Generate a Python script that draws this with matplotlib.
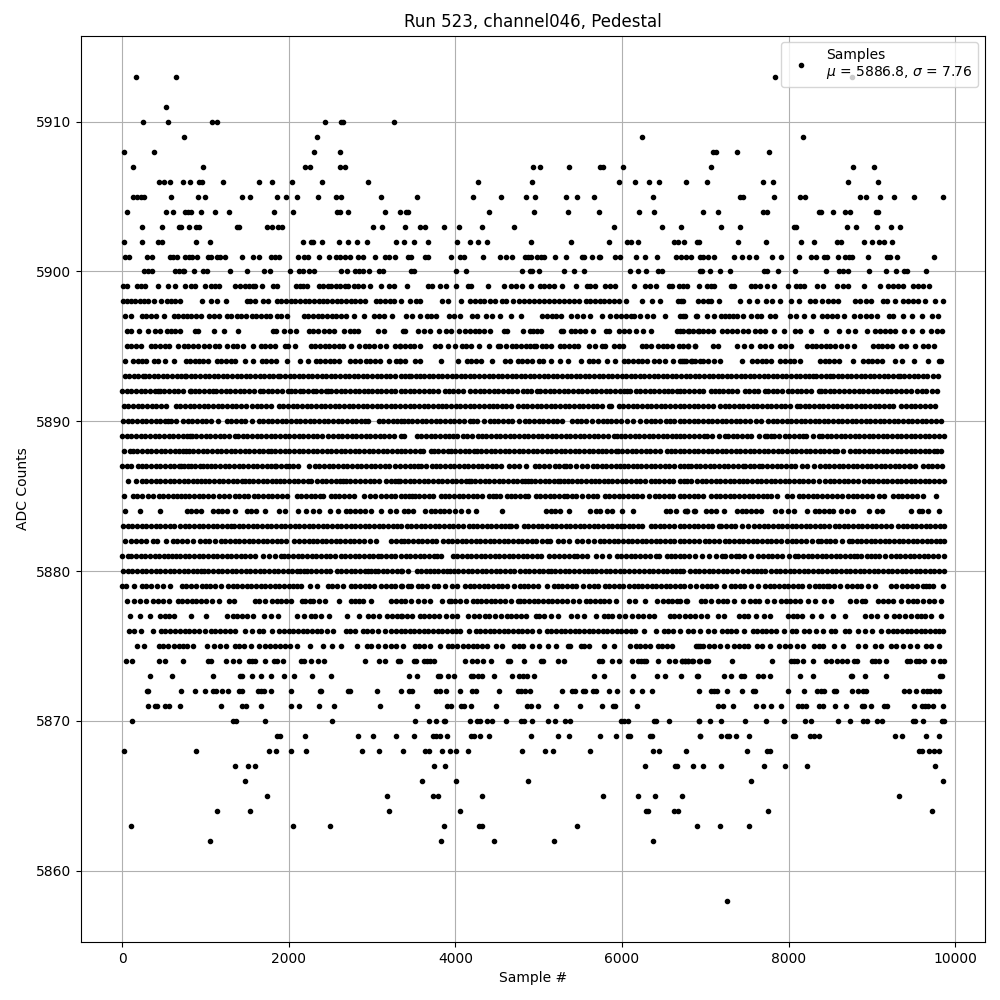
import matplotlib
matplotlib.use("Agg")
import matplotlib.pyplot as plt

## sample numbers, one list per ADC level
s5913 = [162, 642, 7839, 8763]
s5911 = [522]
s5910 = [246, 546, 1074, 1134, 2430, 2630, 2655, 3258]
s5909 = [738, 2334, 6236, 8175]
s5908 = [18, 378, 2298, 2610, 7095, 7131, 7383, 7767]
s5907 = [126, 966, 2190, 2250, 2610, 2670, 4928, 5012, 5360, 5732, 5768, 6008, 7071, 8775, 9027]
s5906 = [438, 498, 570, 726, 810, 918, 958, 1206, 1638, 1794, 2034, 2394, 2946, 4268, 4916, 5960, 6152, 6320, 6440, 6764,
         7023, 7695, 7815, 8715, 9075]
s5905 = [126, 174, 222, 258, 582, 906, 990, 1434, 1530, 1854, 1962, 2094, 2346, 2562, 2622, 3102, 3536, 4208, 4544, 4844,
         4952, 5324, 5456, 5660, 6368, 7419, 7455, 7827, 8139, 8199, 8859, 8931, 9099, 9267, 9507, 9855]
s5904 = [54, 522, 606, 750, 786, 822, 942, 1110, 1278, 1818, 2046, 2574, 2610, 2706, 3150, 3330, 3404, 3428, 4400, 4940,
         5348, 5720, 6200, 6380, 6975, 7155, 7695, 7743, 8367, 8391, 8535, 8679, 8739, 9051, 9075]
s5903 = [234, 474, 678, 702, 798, 882, 918, 1374, 1398, 1734, 1794, 1866, 1914, 3006, 3114, 3392, 3572, 3632, 3860, 4040,
         4316, 4700, 5900, 6476, 6704, 7191, 7419, 8067, 8091, 8703, 8811, 9063, 9231, 9339]
s5902 = [18, 234, 426, 474, 882, 1050, 2166, 2262, 2286, 2394, 2598, 2706, 2814, 2934, 3282, 3380, 3500, 3668, 4016, 4172,
         4268, 4376, 4904, 5384, 5840, 6056, 6104, 6188, 6620, 6668, 6740, 6896, 6920, 7395, 7731, 8151, 8307, 8583, 8631,
         8907, 9003, 9087, 9147, 9243]
s5901 = [30, 78, 294, 354, 570, 606, 654, 750, 798, 834, 898, 1026, 1062, 1134, 1170, 1230, 1434, 1570, 1638, 1782, 1830,
         1878, 2106, 2178, 2226, 2358, 2478, 2562, 2610, 2670, 2730, 2826, 2886, 3030, 3150, 3198, 3270, 3428, 3464, 3632,
         3668, 3944, 4052, 4100, 4328, 4532, 4604, 4676, 4832, 4868, 4904, 4976, 5024, 5060, 5192, 5332, 5516, 5540, 5636,
         5720, 5732, 5912, 5972, 6164, 6272, 6416, 6644, 6704, 6764, 6824, 6939, 6975, 7035, 7107, 7347, 7443, 7527, 7611,
         7803, 7911, 8127, 8271, 8331, 8427, 8463, 8595, 8679, 8727, 8763, 8955, 9183, 9219, 9303, 9747]
s5900 = [258, 306, 354, 630, 678, 726, 738, 858, 966, 1014, 1290, 1494, 1698, 1770, 2010, 2118, 2166, 2238, 2298, 2622,
         2694, 2790, 2838, 2886, 2958, 3078, 3126, 3464, 3500, 4004, 4124, 4796, 4892, 4916, 5000, 5300, 5420, 5540, 6092,
         6188, 6284, 6428, 6476, 6932, 6959, 7059, 7179, 7299, 7707, 7743, 7875, 8079, 8451, 8607, 8655, 8715, 8967, 9171,
         9291, 9387, 9423, 9651]
s5899 = [10, 58, 174, 222, 270, 426, 546, 630, 750, 822, 870, 990, 1062, 1110, 1158, 1350, 1410, 1470, 1518, 1566, 1590,
         1674, 1806, 1854, 2082, 2130, 2166, 2214, 2358, 2414, 2470, 2502, 2562, 2618, 2674, 2706, 2778, 2834, 2890, 2970,
         3102, 3198, 3258, 3416, 3668, 3716, 3812, 3884, 4004, 4148, 4184, 4388, 4580, 4664, 4724, 4796, 4904, 5012, 5060,
         5120, 5180, 5276, 5444, 5576, 5612, 5672, 5792, 5852, 5912, 6140, 6272, 6332, 6404, 6560, 6596, 6680, 6735, 6783,
         6927, 7023, 7071, 7107, 7311, 7347, 7551, 7599, 7659, 7743, 7827, 7995, 8091, 8139, 8187, 8343, 8415, 8583, 8655,
         8715, 8907, 9095, 9195, 9255, 9315, 9375, 9495, 9555, 9615, 9687]
s5898 = [10, 60, 110, 160, 210, 260, 310, 378, 462, 534, 590, 640, 698, 954, 1062, 1134, 1242, 1494, 1530, 1590, 1686, 1746,
         1854, 1910, 1966, 2022, 2078, 2134, 2190, 2246, 2302, 2358, 2406, 2462, 2518, 2574, 2630, 2686, 2742, 2798, 2854,
         2910, 3042, 3098, 3154, 3210, 3266, 3342, 3452, 3524, 3572, 3836, 3908, 4064, 4172, 4232, 4292, 4340, 4412, 4472,
         4556, 4604, 4688, 4760, 4820, 4880, 4940, 5000, 5060, 5120, 5180, 5240, 5300, 5360, 5420, 5480, 5564, 5620, 5676,
         5732, 5788, 5840, 5900, 5960, 6044, 6236, 6356, 6452, 6668, 6707, 6728, 6915, 6975, 7035, 7071, 7167, 7419, 7527,
         7623, 7731, 7803, 7899, 8031, 8127, 8259, 8319, 8403, 8475, 8535, 8595, 8799, 8859, 8931, 8991, 9135, 9183, 9279,
         9375, 9435, 9495, 9555, 9639, 9759, 9855]
s5897 = [30, 102, 234, 290, 346, 402, 498, 618, 672, 726, 774, 830, 882, 942, 1038, 1100, 1158, 1254, 1310, 1374, 1422,
         1482, 1554, 1610, 1666, 1722, 1778, 1854, 1902, 1974, 2178, 2234, 2290, 2346, 2402, 2458, 2514, 2570, 2626, 2682,
         2778, 2898, 3018, 3078, 3138, 3234, 3404, 3476, 3572, 3656, 3710, 3764, 3920, 3980, 4052, 4196, 4256, 4364, 4436,
         4532, 4664, 4784, 5036, 5096, 5156, 5210, 5264, 5384, 5456, 5528, 5620, 5756, 5852, 5924, 5984, 6044, 6104, 6140,
         6212, 6296, 6368, 6512, 6692, 6752, 6896, 6735, 6891, 7023, 7107, 7191, 7239, 7287, 7335, 7383, 7455, 7551, 7623,
         7671, 7779, 7839, 8019, 8091, 8187, 8295, 8403, 8463, 8523, 8583, 8667, 8787, 8859, 8931, 8991, 9063, 9207, 9255,
         9375, 9483, 9603, 9723, 9795]
s5896 = [54, 102, 198, 306, 390, 450, 534, 590, 640, 690, 870, 906, 1098, 1218, 1386, 1806, 1842, 1938, 2010, 2082, 2238,
         2292, 2346, 2418, 2480, 2538, 2658, 2730, 2780, 2826, 3066, 3138, 3368, 3392, 3548, 3620, 3692, 3800, 3884, 3944,
         4040, 4112, 4172, 4232, 4286, 4340, 4412, 4580, 4616, 4808, 4892, 4928, 4976, 5024, 5264, 5288, 5384, 5440, 5500,
         5560, 5648, 5804, 5840, 5960, 6020, 6080, 6164, 6248, 6344, 6656, 6728, 6800, 6920, 6695, 6795, 6855, 6915, 6975,
         7035, 7095, 7203, 7263, 7323, 7383, 7455, 7515, 7599, 7659, 7719, 7827, 7947, 8079, 8139, 8271, 8451, 8607, 8715,
         8799, 8943, 9039, 9099, 9159, 9219, 9279, 9387, 9483, 9603, 9711, 9783, 9843]
s5895 = [54, 110, 162, 222, 342, 398, 454, 510, 566, 666, 738, 794, 850, 906, 978, 1038, 1110, 1158, 1254, 1326, 1382, 1446,
         1566, 1662, 1718, 1774, 1830, 1950, 1986, 2070, 2262, 2318, 2374, 2430, 2486, 2542, 2598, 2654, 2742, 2838, 2910,
         2966, 3022, 3090, 3162, 3270, 3330, 3340, 3396, 3452, 3508, 3580, 3752, 3812, 3908, 3992, 4076, 4132, 4188, 4280,
         4400, 4508, 4532, 4604, 4676, 4732, 4788, 4844, 4900, 4940, 4964, 5036, 5090, 5144, 5252, 5308, 5364, 5420, 5476,
         5600, 5672, 5756, 5792, 5900, 5960, 6008, 6236, 6292, 6348, 6428, 6488, 6544, 6600, 6680, 6788, 6872, 6735, 6795,
         6879, 7095, 7155, 7383, 7467, 7551, 7659, 7715, 7791, 7899, 7959, 8031, 8223, 8279, 8335, 8391, 8447, 8503, 8559,
         8631, 8703, 8787, 9015, 9071, 9127, 9183, 9239, 9351, 9411, 9519, 9615, 9671, 9747]
s5894 = [30, 126, 186, 242, 282, 378, 434, 510, 618, 762, 818, 874, 918, 966, 1026, 1134, 1190, 1246, 1302, 1358, 1470, 1566,
         1674, 1730, 1786, 1842, 1974, 2130, 2226, 2322, 2378, 2434, 2490, 2546, 2602, 2730, 2790, 2850, 2922, 2978, 3034,
         3090, 3198, 3282, 3330, 3340, 3392, 3512, 3572, 3824, 4028, 4136, 4192, 4248, 4304, 4436, 4592, 4652, 4748, 4804,
         4860, 4916, 5000, 5048, 5144, 5252, 5348, 5504, 5600, 5656, 5712, 5816, 5912, 6020, 6076, 6132, 6188, 6244, 6300,
         6380, 6440, 6512, 6608, 6716, 6772, 6828, 6932, 6695, 6751, 6839, 6879, 6975, 7035, 7107, 7179, 7443, 7563, 7623,
         7679, 7735, 7791, 7899, 7959, 8015, 8071, 8139, 8379, 8435, 8491, 8547, 8603, 8775, 8895, 8951, 9007, 9063, 9119,
         9279, 9363, 9507, 9675, 9807, 9831]
s5893 = [30, 85, 140, 195, 250, 270, 325, 380, 435, 490, 545, 600, 655, 710, 750, 770, 825, 880, 935, 990, 1045, 1100, 1155,
         1210, 1265, 1320, 1375, 1430, 1485, 1540, 1595, 1650, 1705, 1760, 1815, 1870, 1890, 1950, 2010, 2065, 2120, 2175,
         2230, 2285, 2340, 2395, 2450, 2505, 2560, 2615, 2670, 2725, 2780, 2835, 2890, 2945, 3000, 3055, 3110, 3165, 3220,
         3275, 3350, 3400, 3440, 3468, 3525, 3580, 3620, 3680, 3735, 3790, 3845, 3900, 3955, 4010, 4065, 4120, 4175, 4230,
         4285, 4340, 4400, 4455, 4510, 4565, 4620, 4675, 4730, 4785, 4840, 4895, 4950, 5005, 5060, 5115, 5170, 5225, 5280,
         5335, 5390, 5445, 5500, 5555, 5610, 5665, 5720, 5775, 5830, 5885, 5940, 5995, 6050, 6105, 6160, 6215, 6270, 6325,
         6380, 6435, 6490, 6545, 6600, 6655, 6710, 6765, 6820, 6875, 6930, 6985, 7040, 7095, 7150, 7205, 7260, 7315, 7370,
         7425, 7480, 7535, 7590, 7645, 7700, 7755, 7810, 7865, 7920, 7975, 8030, 8085, 8140, 8195, 8250, 8295, 8335, 8390,
         8445, 8495, 8535, 8590, 8645, 8700, 8755, 8810, 8865, 8920, 8975, 9030, 9085, 9140, 9195, 9250, 9315, 9335, 9390,
         9445, 9500, 9555, 9610, 9665, 9735, 9795]
s5892 = [0, 56, 112, 168, 224, 280, 336, 392, 430, 450, 506, 562, 618, 674, 730, 810, 830, 870, 926, 982, 1038, 1090, 1130,
         1186, 1242, 1298, 1354, 1410, 1466, 1522, 1578, 1650, 1690, 1746, 1802, 1858, 1914, 1990, 2030, 2080, 2130, 2170,
         2230, 2290, 2330, 2386, 2442, 2470, 2510, 2566, 2622, 2678, 2734, 2790, 2846, 2902, 2950, 2998, 3054, 3110, 3166,
         3222, 3278, 3350, 3396, 3452, 3508, 3564, 3628, 3680, 3736, 3792, 3872, 3920, 3976, 4032, 4088, 4172, 4236, 4292,
         4348, 4404, 4460, 4516, 4572, 4628, 4684, 4740, 4808, 4856, 4912, 4980, 5020, 5076, 5132, 5188, 5244, 5300, 5356,
         5412, 5468, 5524, 5580, 5636, 5692, 5748, 5804, 5860, 5916, 5972, 6028, 6060, 6100, 6164, 6220, 6276, 6332, 6388,
         6444, 6500, 6548, 6604, 6660, 6695, 6751, 6807, 6863, 6927, 6975, 7071, 7120, 7167, 7215, 7271, 7327, 7379, 7479,
         7527, 7583, 7639, 7719, 7755, 7811, 7867, 7923, 7995, 8043, 8099, 8155, 8211, 8267, 8367, 8391, 8439, 8495, 8551,
         8607, 8667, 8727, 8787, 8843, 8899, 8955, 9011, 9067, 9123, 9179, 9235, 9291, 9351, 9411, 9471, 9543, 9599, 9655,
         9723, 9783]
s5891 = [18, 74, 130, 186, 242, 298, 354, 410, 466, 530, 642, 698, 754, 810, 866, 922, 978, 1034, 1090, 1146, 1202, 1258,
         1314, 1370, 1422, 1490, 1558, 1614, 1670, 1726, 1782, 1878, 1934, 1990, 2046, 2102, 2158, 2214, 2270, 2326, 2382,
         2438, 2494, 2550, 2606, 2662, 2718, 2774, 2830, 2886, 2942, 2998, 3054, 3110, 3166, 3222, 3278, 3340, 3396, 3452,
         3508, 3564, 3620, 3676, 3732, 3788, 3836, 3892, 3948, 4004, 4060, 4116, 4172, 4228, 4284, 4340, 4400, 4450, 4500,
         4556, 4612, 4668, 4748, 4808, 4864, 4920, 4976, 5032, 5088, 5144, 5200, 5256, 5312, 5368, 5424, 5480, 5536, 5592,
         5648, 5704, 5760, 5840, 5864, 5960, 6016, 6072, 6128, 6184, 6240, 6296, 6352, 6408, 6464, 6520, 6576, 6632, 6700,
         6751, 6807, 6863, 6919, 6975, 7031, 7095, 7179, 7235, 7291, 7347, 7403, 7459, 7515, 7571, 7627, 7683, 7739, 7795,
         7851, 7907, 7963, 8019, 8103, 8139, 8195, 8251, 8307, 8363, 8419, 8475, 8531, 8587, 8643, 8699, 8755, 8811, 8867,
         8923, 8979, 9035, 9091, 9147, 9203, 9255, 9351, 9411, 9471, 9519, 9579, 9635, 9700, 9759]
s5890 = [10, 66, 122, 178, 234, 290, 346, 402, 458, 514, 550, 582, 650, 726, 786, 842, 898, 954, 1010, 1066, 1146, 1254,
         1310, 1366, 1422, 1478, 1558, 1638, 1686, 1746, 1802, 1858, 1914, 1970, 2026, 2082, 2138, 2194, 2250, 2306, 2362,
         2418, 2474, 2530, 2586, 2642, 2698, 2754, 2810, 2866, 2910, 2946, 3078, 3134, 3190, 3246, 3300, 3350, 3380, 3428,
         3484, 3540, 3596, 3652, 3708, 3764, 3820, 3876, 3932, 3988, 4044, 4100, 4172, 4208, 4264, 4340, 4412, 4460, 4516,
         4572, 4628, 4684, 4760, 4832, 4888, 4944, 5000, 5056, 5112, 5168, 5224, 5280, 5396, 5456, 5512, 5568, 5640, 5708,
         5768, 5816, 5872, 5928, 5984, 6056, 6128, 6212, 6284, 6344, 6400, 6460, 6524, 6572, 6628, 6695, 6751, 6807, 6863,
         6919, 6975, 7031, 7087, 7143, 7199, 7255, 7311, 7367, 7423, 7479, 7535, 7611, 7671, 7755, 7811, 7867, 7923, 7979,
         8035, 8091, 8147, 8203, 8259, 8315, 8371, 8427, 8475, 8535, 8591, 8647, 8703, 8759, 8815, 8871, 8927, 8983, 9039,
         9095, 9151, 9207, 9263, 9319, 9375, 9431, 9487, 9543, 9599, 9655, 9711, 9767, 9835]
s5889 = [0, 56, 112, 168, 224, 280, 336, 392, 448, 504, 560, 616, 672, 728, 784, 810, 834, 890, 946, 1002, 1058, 1114, 1170,
         1226, 1282, 1350, 1390, 1446, 1502, 1558, 1614, 1670, 1726, 1782, 1838, 1894, 1950, 2006, 2062, 2118, 2174, 2230,
         2286, 2342, 2398, 2470, 2530, 2586, 2642, 2698, 2754, 2810, 2866, 2922, 2978, 3034, 3090, 3146, 3202, 3258, 3350,
         3388, 3536, 3592, 3648, 3704, 3760, 3816, 3872, 3928, 3976, 4016, 4088, 4144, 4200, 4268, 4316, 4372, 4428, 4484,
         4540, 4596, 4652, 4708, 4764, 4820, 4876, 4932, 4988, 5044, 5100, 5156, 5212, 5268, 5324, 5380, 5436, 5492, 5548,
         5604, 5660, 5716, 5772, 5828, 5908, 5936, 5984, 6040, 6096, 6152, 6208, 6264, 6320, 6376, 6432, 6488, 6544, 6600,
         6650, 6700, 6751, 6807, 6863, 6925, 6987, 7023, 7079, 7160, 7239, 7275, 7331, 7387, 7443, 7499, 7555, 7640, 7719,
         7743, 7791, 7831, 7890, 7959, 8007, 8063, 8120, 8175, 8211, 8290, 8367, 8403, 8459, 8515, 8571, 8627, 8683, 8739,
         8795, 8851, 8907, 8963, 9019, 9075, 9131, 9187, 9243, 9299, 9355, 9411, 9467, 9523, 9579, 9635, 9691, 9747, 9803,
         9865]
s5888 = [18, 90, 126, 182, 238, 294, 350, 406, 462, 518, 574, 630, 686, 730, 762, 798, 854, 910, 966, 1022, 1078, 1134,
         1190, 1246, 1302, 1358, 1414, 1470, 1526, 1582, 1638, 1692, 1746, 1782, 1838, 1894, 1950, 2006, 2062, 2118, 2174,
         2230, 2286, 2342, 2398, 2454, 2510, 2566, 2622, 2678, 2734, 2790, 2846, 2902, 2958, 3014, 3070, 3126, 3182, 3238,
         3294, 3350, 3396, 3452, 3512, 3572, 3608, 3704, 3740, 3796, 3850, 3908, 3944, 4000, 4056, 4112, 4168, 4220, 4256,
         4312, 4368, 4424, 4480, 4536, 4592, 4648, 4704, 4760, 4816, 4872, 4928, 4984, 5040, 5096, 5152, 5208, 5264, 5320,
         5376, 5432, 5488, 5544, 5600, 5656, 5708, 5756, 5812, 5868, 5924, 5948, 6004, 6060, 6116, 6172, 6228, 6284, 6340,
         6396, 6452, 6540, 6584, 6640, 6700, 6751, 6807, 6863, 6919, 6975, 7031, 7087, 7143, 7199, 7255, 7311, 7367, 7423,
         7479, 7535, 7591, 7647, 7703, 7759, 7815, 7871, 7927, 7983, 8039, 8095, 8151, 8207, 8263, 8319, 8375, 8431, 8487,
         8543, 8583, 8655, 8739, 8795, 8851, 8907, 8963, 9019, 9075, 9131, 9187, 9243, 9299, 9355, 9411, 9467, 9523, 9579,
         9635, 9691, 9747, 9783, 9831]
s5887 = [0, 56, 112, 186, 234, 290, 346, 402, 458, 514, 570, 626, 682, 710, 738, 790, 830, 870, 930, 970, 1014, 1062, 1118,
         1174, 1230, 1286, 1342, 1398, 1454, 1510, 1566, 1622, 1678, 1734, 1790, 1830, 1850, 1906, 1962, 2002, 2046, 2106,
         2238, 2310, 2366, 2422, 2478, 2534, 2590, 2646, 2702, 2758, 2814, 2870, 2926, 2982, 3038, 3094, 3150, 3206, 3270,
         3330, 3396, 3452, 3510, 3548, 3584, 3650, 3716, 3764, 3820, 3876, 3932, 3988, 4044, 4100, 4156, 4212, 4268, 4324,
         4380, 4436, 4492, 4548, 4640, 4700, 4770, 4844, 4952, 5008, 5064, 5120, 5200, 5250, 5300, 5324, 5380, 5450, 5516,
         5576, 5648, 5700, 5756, 5812, 5868, 5924, 5980, 6020, 6068, 6128, 6176, 6232, 6288, 6344, 6400, 6456, 6512, 6568,
         6624, 6700, 6740, 6795, 6831, 6887, 6943, 6999, 7055, 7111, 7167, 7223, 7279, 7335, 7395, 7455, 7479, 7535, 7590,
         7647, 7683, 7743, 7803, 7859, 7915, 7971, 8027, 8083, 8163, 8223, 8307, 8379, 8435, 8491, 8547, 8603, 8659, 8715,
         8771, 8827, 8883, 8939, 8995, 9051, 9107, 9163, 9219, 9275, 9331, 9387, 9443, 9455, 9519, 9615, 9671, 9727, 9783,
         9840]
s5886 = [70, 162, 234, 290, 346, 402, 458, 514, 570, 626, 682, 738, 794, 850, 900, 942, 990, 1046, 1102, 1158, 1214, 1270,
         1326, 1382, 1438, 1470, 1518, 1574, 1630, 1686, 1742, 1798, 1842, 1890, 1946, 2002, 2058, 2114, 2170, 2226, 2270,
         2338, 2394, 2450, 2506, 2562, 2618, 2646, 2682, 2738, 2794, 2850, 2910, 2970, 3026, 3082, 3166, 3222, 3278, 3310,
         3340, 3396, 3452, 3508, 3564, 3620, 3676, 3732, 3788, 3844, 3900, 3956, 4012, 4068, 4124, 4160, 4184, 4240, 4296,
         4352, 4408, 4464, 4520, 4576, 4632, 4688, 4744, 4800, 4840, 4868, 4904, 4960, 5016, 5072, 5128, 5184, 5228, 5260,
         5300, 5350, 5400, 5456, 5512, 5568, 5624, 5680, 5730, 5780, 5828, 5884, 5940, 5996, 6052, 6108, 6164, 6220, 6280,
         6344, 6392, 6448, 6504, 6560, 6616, 6700, 6740, 6783, 6831, 6903, 6959, 7015, 7071, 7127, 7183, 7239, 7295, 7351,
         7407, 7455, 7503, 7563, 7619, 7675, 7731, 7787, 7843, 7899, 7955, 8011, 8067, 8123, 8179, 8235, 8291, 8367, 8439,
         8495, 8551, 8607, 8663, 8719, 8775, 8835, 8907, 8963, 9019, 9075, 9131, 9187, 9243, 9299, 9355, 9411, 9467, 9523,
         9579, 9635, 9691, 9747, 9803, 9865]
s5885 = [18, 126, 182, 238, 310, 366, 438, 494, 550, 606, 654, 702, 750, 806, 862, 918, 974, 1030, 1086, 1158, 1218, 1278,
         1350, 1406, 1462, 1510, 1578, 1634, 1690, 1746, 1802, 1858, 1914, 1974, 2094, 2150, 2206, 2262, 2318, 2374, 2406,
         2502, 2550, 2598, 2658, 2718, 2778, 2898, 2970, 3030, 3110, 3166, 3222, 3278, 3350, 3396, 3440, 3476, 3512, 3568,
         3624, 3680, 3736, 3824, 3872, 3928, 3984, 4040, 4096, 4152, 4208, 4264, 4320, 4400, 4448, 4484, 4532, 4616, 4664,
         4720, 4776, 4832, 4868, 4964, 5020, 5076, 5132, 5188, 5244, 5300, 5340, 5396, 5452, 5520, 5588, 5648, 5696, 5792,
         5848, 5904, 5960, 6016, 6072, 6128, 6184, 6240, 6320, 6392, 6448, 6504, 6560, 6616, 6700, 6751, 6807, 6860, 6915,
         6975, 7071, 7127, 7183, 7239, 7295, 7351, 7407, 7470, 7527, 7575, 7631, 7690, 7743, 7791, 7863, 7983, 8043, 8127,
         8175, 8235, 8291, 8347, 8405, 8463, 8523, 8583, 8643, 8715, 8771, 8827, 8883, 8939, 9003, 9087, 9147, 9255, 9311,
         9367, 9423, 9479, 9545, 9615, 9771]
s5884 = [30, 210, 450, 774, 830, 882, 942, 1086, 1148, 1205, 1262, 1350, 1494, 1550, 1610, 1710, 1878, 1950, 2106, 2202, 2286,
         2358, 2490, 2586, 2682, 2738, 2795, 2850, 2910, 2982, 3102, 3210, 3282, 3380, 3434, 3488, 3632, 3704, 3760, 3816,
         3870, 3920, 3992, 4070, 4148, 4244, 4556, 5084, 5144, 5192, 5252, 5360, 5612, 5684, 5740, 5816, 5876, 5996, 6128,
         6524, 6572, 6644, 6776, 6872, 6759, 6783, 6867, 7011, 7070, 7131, 7227, 7383, 7443, 7491, 7555, 7615, 7671, 7839,
         7915, 7995, 8067, 8223, 8319, 8367, 8427, 8480, 8535, 8631, 8703, 8775, 8967, 9063, 9123, 9471, 9567, 9603, 9675,
         9803]
s5883 = [10, 66, 122, 178, 234, 290, 346, 402, 458, 514, 570, 626, 690, 750, 806, 862, 918, 974, 1030, 1086, 1142, 1198,
         1254, 1310, 1338, 1398, 1454, 1510, 1566, 1622, 1678, 1734, 1790, 1846, 1902, 1958, 2014, 2070, 2126, 2182, 2238,
         2294, 2350, 2406, 2462, 2518, 2574, 2630, 2686, 2742, 2798, 2854, 2910, 2966, 3022, 3078, 3134, 3190, 3246, 3302,
         3350, 3416, 3472, 3528, 3584, 3640, 3696, 3752, 3808, 3864, 3920, 3976, 4032, 4088, 4160, 4208, 4264, 4320, 4376,
         4432, 4488, 4544, 4600, 4640, 4672, 4724, 4820, 4876, 4932, 4988, 5044, 5100, 5156, 5212, 5268, 5324, 5380, 5436,
         5492, 5548, 5604, 5660, 5716, 5772, 5828, 5884, 5940, 5984, 6020, 6080, 6136, 6190, 6236, 6344, 6400, 6456, 6510,
         6560, 6620, 6692, 6751, 6807, 6863, 6919, 6975, 7031, 7087, 7167, 7191, 7250, 7311, 7359, 7443, 7515, 7587, 7647,
         7703, 7759, 7815, 7871, 7927, 7983, 8039, 8095, 8151, 8207, 8263, 8319, 8375, 8431, 8487, 8559, 8607, 8663, 8719,
         8775, 8831, 8887, 8943, 8999, 9055, 9111, 9167, 9231, 9315, 9375, 9423, 9479, 9535, 9591, 9647, 9703, 9759, 9815,
         9865]
s5882 = [30, 102, 162, 222, 282, 366, 422, 522, 606, 662, 718, 780, 846, 930, 990, 1038, 1110, 1182, 1238, 1294, 1350, 1406,
         1462, 1518, 1574, 1630, 1686, 1742, 1798, 1854, 1910, 1966, 2058, 2118, 2178, 2238, 2286, 2342, 2398, 2450, 2502,
         2562, 2618, 2674, 2730, 2786, 2842, 2898, 2970, 3042, 3222, 3290, 3350, 3380, 3436, 3492, 3548, 3604, 3660, 3716,
         3772, 3848, 3908, 3964, 4020, 4076, 4132, 4188, 4244, 4300, 4356, 4412, 4468, 4524, 4580, 4636, 4692, 4748, 4804,
         4860, 4916, 4972, 5040, 5100, 5140, 5228, 5290, 5360, 5456, 5520, 5588, 5660, 5732, 5788, 5844, 5900, 5956, 6012,
         6068, 6124, 6180, 6236, 6292, 6348, 6404, 6460, 6516, 6572, 6628, 6700, 6751, 6807, 6863, 6930, 6999, 7047, 7103,
         7170, 7239, 7287, 7347, 7403, 7459, 7515, 7571, 7627, 7683, 7739, 7795, 7851, 7911, 7983, 8039, 8095, 8151, 8207,
         8280, 8355, 8391, 8447, 8503, 8559, 8640, 8727, 8763, 8819, 8875, 8931, 8987, 9043, 9099, 9155, 9211, 9267, 9323,
         9379, 9435, 9491, 9547, 9603, 9659, 9715, 9771, 9820, 9865]
s5881 = [0, 70, 110, 166, 222, 278, 334, 390, 446, 502, 550, 594, 642, 698, 750, 798, 858, 918, 974, 1030, 1086, 1142, 1198,
         1254, 1310, 1366, 1422, 1478, 1534, 1590, 1686, 1758, 1830, 1902, 1938, 1994, 2050, 2106, 2162, 2218, 2274, 2330,
         2386, 2442, 2500, 2550, 2622, 2678, 2734, 2790, 2846, 2902, 2958, 3014, 3070, 3110, 3166, 3222, 3278, 3350, 3404,
         3460, 3516, 3572, 3628, 3684, 3740, 3776, 3824, 3968, 4024, 4080, 4136, 4192, 4248, 4304, 4360, 4416, 4472, 4528,
         4584, 4640, 4696, 4752, 4808, 4864, 4920, 4976, 5032, 5120, 5180, 5240, 5300, 5360, 5420, 5456, 5516, 5576, 5684,
         5760, 5840, 5936, 5992, 6048, 6104, 6160, 6216, 6272, 6340, 6404, 6440, 6540, 6584, 6640, 6700, 6751, 6807, 6880,
         6963, 7047, 7125, 7203, 7239, 7305, 7371, 7407, 7463, 7550, 7635, 7695, 7751, 7807, 7863, 7919, 8000, 8079, 8115,
         8175, 8231, 8287, 8343, 8399, 8455, 8511, 8567, 8623, 8679, 8735, 8791, 8823, 8871, 8943, 8991, 9040, 9087, 9159,
         9231, 9287, 9343, 9399, 9455, 9511, 9567, 9623, 9679, 9735, 9791, 9865]
s5880 = [10, 66, 122, 178, 234, 290, 346, 402, 458, 514, 570, 626, 682, 738, 794, 850, 900, 942, 978, 1034, 1090, 1146, 1202,
         1258, 1314, 1370, 1426, 1482, 1538, 1594, 1650, 1706, 1762, 1818, 1874, 1930, 1986, 2042, 2098, 2138, 2178, 2214,
         2270, 2326, 2390, 2442, 2490, 2574, 2630, 2686, 2742, 2798, 2854, 2910, 2946, 2982, 3030, 3070, 3126, 3182, 3238,
         3294, 3350, 3360, 3428, 3536, 3592, 3650, 3700, 3740, 3796, 3850, 3900, 3940, 3980, 4036, 4092, 4148, 4204, 4260,
         4316, 4372, 4428, 4484, 4540, 4596, 4652, 4708, 4780, 4832, 4888, 4944, 5000, 5056, 5108, 5144, 5200, 5256, 5312,
         5368, 5424, 5480, 5540, 5588, 5636, 5692, 5748, 5804, 5860, 5916, 5972, 6028, 6084, 6140, 6200, 6260, 6320, 6376,
         6432, 6488, 6544, 6600, 6650, 6700, 6735, 6819, 6875, 6931, 6987, 7043, 7099, 7155, 7211, 7267, 7323, 7379, 7455,
         7515, 7571, 7620, 7675, 7719, 7791, 7847, 7903, 7959, 8015, 8071, 8127, 8183, 8239, 8295, 8351, 8407, 8463, 8519,
         8575, 8631, 8687, 8743, 8799, 8855, 8911, 8967, 9023, 9079, 9135, 9191, 9247, 9303, 9359, 9415, 9471, 9527, 9583,
         9639, 9695, 9751, 9807, 9865]
s5879 = [0, 50, 138, 234, 290, 346, 420, 486, 570, 714, 770, 826, 890, 954, 1002, 1058, 1114, 1190, 1266, 1326, 1382, 1438,
         1494, 1550, 1606, 1662, 1718, 1774, 1830, 1886, 1942, 1998, 2054, 2100, 2142, 2250, 2334, 2466, 2520, 2574, 2646,
         2742, 2798, 2854, 2910, 2966, 3022, 3110, 3166, 3222, 3278, 3350, 3360, 3428, 3464, 3548, 3596, 3656, 3740, 3796,
         3880, 3956, 4016, 4112, 4172, 4228, 4284, 4340, 4396, 4452, 4508, 4564, 4620, 4700, 4772, 4820, 4876, 4930, 4988,
         5096, 5180, 5228, 5284, 5340, 5396, 5452, 5530, 5600, 5660, 5708, 5792, 5848, 5904, 5960, 6016, 6080, 6140, 6188,
         6244, 6300, 6356, 6412, 6468, 6524, 6580, 6636, 6700, 6751, 6820, 6891, 6963, 7019, 7075, 7131, 7220, 7311, 7359,
         7415, 7471, 7550, 7635, 7719, 7775, 7831, 7887, 7943, 7999, 8055, 8111, 8167, 8245, 8319, 8367, 8415, 8463, 8487,
         8550, 8619, 8703, 8763, 8819, 8875, 8955, 9039, 9231, 9295, 9363, 9423, 9479, 9545, 9615, 9651, 9690, 9735, 9855]
s5878 = [54, 138, 210, 282, 366, 426, 486, 558, 666, 722, 778, 834, 890, 946, 1002, 1080, 1158, 1278, 1338, 1590, 1646, 1720,
         1794, 1854, 1910, 1970, 2030, 2154, 2200, 2250, 2290, 2360, 2430, 2598, 2742, 2790, 2838, 2886, 2982, 3222, 3290,
         3350, 3396, 3470, 3548, 3620, 3692, 3836, 3920, 3944, 4000, 4056, 4130, 4208, 4256, 4312, 4368, 4424, 4480, 4536,
         4592, 4670, 4748, 4772, 4828, 4884, 4940, 4996, 5052, 5108, 5164, 5220, 5276, 5340, 5410, 5480, 5564, 5620, 5672,
         5732, 5788, 5850, 5924, 6080, 6152, 6272, 6416, 6488, 6548, 6604, 6660, 6772, 6695, 6783, 6951, 6999, 7071, 7155,
         7211, 7267, 7350, 7455, 7539, 7595, 7651, 7740, 7827, 7911, 7967, 8023, 8079, 8135, 8230, 8319, 8427, 8511, 8739,
         8811, 8883, 8919, 9075, 9131, 9190, 9255, 9351, 9435, 9491, 9547, 9620, 9687, 9747, 9835]
s5877 = [90, 210, 330, 450, 510, 560, 618, 822, 1002, 1254, 1326, 1382, 1438, 1500, 1566, 1698, 1782, 1870, 2098, 2178, 2262,
         2320, 2382, 2478, 2702, 2838, 2946, 3010, 3078, 3182, 3240, 3300, 3350, 3360, 3416, 3476, 3572, 3628, 3684, 3740,
         3810, 3884, 3956, 4016, 4148, 4220, 4280, 4352, 4410, 4472, 4544, 4616, 4672, 4728, 4790, 4844, 4964, 5000, 5060,
         5144, 5228, 5384, 5460, 5540, 5684, 5780, 5830, 5876, 5960, 6040, 6116, 6188, 6250, 6320, 6380, 6572, 6630, 6680,
         6755, 6815, 6879, 6951, 7023, 7155, 7227, 7407, 7463, 7519, 7610, 7707, 7779, 7995, 8051, 8107, 8163, 8280, 8391,
         8535, 8679, 8919, 8990, 9063, 9171, 9267, 9330, 9399, 9471, 9543, 9590, 9639, 9711, 9831]
s5876 = [78, 138, 222, 366, 462, 518, 574, 632, 690, 750, 806, 862, 925, 990, 1062, 1118, 1174, 1230, 1290, 1350, 1470, 1554,
         1638, 1694, 1794, 1886, 1942, 1998, 2054, 2110, 2166, 2222, 2278, 2334, 2390, 2460, 2526, 2682, 2736, 2790, 2886,
         2942, 2998, 3075, 3150, 3222, 3290, 3350, 3396, 3452, 3508, 3564, 3620, 3676, 3732, 3788, 3844, 3900, 3956, 4012,
         4052, 4160, 4244, 4300, 4356, 4412, 4468, 4524, 4580, 4636, 4692, 4748, 4804, 4860, 4916, 5000, 5096, 5152, 5208,
         5264, 5320, 5376, 5432, 5488, 5544, 5600, 5656, 5712, 5768, 5824, 5880, 5936, 5992, 6048, 6104, 6160, 6260, 6404,
         6500, 6556, 6612, 6700, 6795, 6851, 6940, 7035, 7107, 7203, 7259, 7315, 7371, 7470, 7575, 7623, 7679, 7735, 7791,
         7847, 7950, 8043, 8091, 8187, 8243, 8330, 8415, 8511, 8559, 8683, 8727, 8835, 8920, 9003, 9111, 9195, 9251, 9307,
         9363, 9419, 9475, 9531, 9587, 9643, 9699, 9755, 9810, 9855]
s5875 = [174, 258, 438, 486, 546, 618, 678, 726, 774, 846, 1014, 1098, 1170, 1242, 1350, 1406, 1462, 1550, 1638, 1710, 1770,
         1830, 1890, 1950, 2020, 2094, 2250, 2406, 2514, 2622, 2814, 2934, 2990, 3070, 3150, 3222, 3282, 3368, 3512, 3568,
         3624, 3700, 3812, 3908, 3964, 4020, 4090, 4148, 4208, 4264, 4320, 4376, 4484, 4556, 4700, 4760, 4808, 4916, 5000,
         5108, 5204, 5348, 5372, 5504, 5550, 5600, 5780, 5900, 6092, 6164, 6220, 6280, 6332, 6428, 6484, 6540, 6596, 6908,
         6940, 6891, 6975, 7047, 7103, 7180, 7263, 7347, 7403, 7460, 7515, 7623, 7679, 7780, 7887, 7959, 8015, 8100, 8175,
         8307, 8363, 8419, 8540, 8655, 8835, 8919, 9039, 9111, 9231, 9287, 9370, 9459, 9543, 9651, 9711, 9807]
s5874 = [42, 114, 438, 510, 726, 1026, 1062, 1242, 1326, 1398, 1518, 1554, 1590, 1710, 1818, 1854, 1926, 2142, 2178, 2262,
         2346, 2418, 2910, 3078, 3150, 3306, 3340, 3500, 3524, 3620, 3660, 3700, 3740, 4112, 4196, 4256, 4328, 4432, 4628,
         4652, 4820, 5024, 5048, 5228, 5300, 5720, 5756, 5876, 5960, 6116, 6188, 6224, 6260, 6292, 6428, 6560, 6632, 6716,
         6752, 6788, 6848, 6920, 6723, 6759, 6795, 6843, 6939, 7011, 7035, 7323, 7803, 8031, 8067, 8103, 8175, 8295, 8451,
         8511, 8583, 8643, 8703, 8787, 8823, 9003, 9039, 9087, 9171, 9423, 9459, 9531, 9567, 9627, 9735, 9819, 9865]
s5873 = [330, 594, 1086, 1410, 1434, 1554, 1662, 1782, 1938, 2058, 2274, 2502, 3440, 3536, 3788, 3812, 3908, 3980, 4184, 4208,
         4268, 4316, 4460, 4676, 4760, 4808, 4856, 4940, 5660, 5780, 6128, 6416, 6512, 6704, 6908, 6903, 7227, 7311, 7431,
         7467, 7635, 7695, 7779, 8139, 8295, 8751, 8767, 8919, 9171, 9819, 9843]
s5872 = [294, 306, 702, 870, 990, 1086, 1122, 1194, 1266, 1398, 1434, 1626, 1662, 1698, 1782, 2022, 2370, 2382, 2706, 2730,
         3054, 3342, 3440, 3476, 3764, 3812, 3884, 4052, 4196, 4244, 4520, 4748, 4784, 4832, 4892, 5276, 5396, 5432, 5528,
         5552, 5648, 5684, 5840, 5936, 6116, 6236, 6356, 6927, 7071, 7107, 7143, 7263, 7443, 7575, 7599, 7995, 8187, 8343,
         8391, 8427, 8547, 8571, 8763, 8835, 8895, 8931, 9387, 9447, 9531, 9615, 9663, 9699, 9759, 9807]
s5871 = [306, 390, 414, 510, 558, 690, 1182, 1434, 1482, 1662, 2022, 2118, 2358, 2538, 3090, 3536, 3896, 3944, 4064, 4100,
         4184, 4484, 4856, 4904, 4988, 5204, 5492, 5756, 5888, 5912, 6176, 7155, 7215, 7335, 7611, 7695, 7791, 7911, 8115,
         8163, 8211, 8367, 8415, 8559, 8691, 8883, 8907, 8991, 9147, 9183, 9507, 9603, 9639, 9675, 9735, 9855]
s5870 = [114, 1326, 1362, 1710, 2514, 3512, 3680, 3764, 3860, 3872, 4172, 4256, 4292, 4376, 4436, 4604, 4784, 4820, 4916,
         5108, 5192, 5312, 5372, 5984, 6020, 6068, 6380, 6404, 6560, 6920, 6927, 7059, 7191, 7479, 7731, 7947, 8199, 8271,
         8595, 8739, 8895, 8943, 9063, 9123, 9495, 9519, 9615, 9843, 9865]
s5869 = [1854, 1890, 2190, 2826, 3006, 3282, 3500, 3728, 3764, 3812, 3896, 4184, 4220, 4300, 4400, 4904, 5228, 5360, 5732,
         5924, 6068, 6092, 6332, 6356, 6932, 6939, 7191, 7263, 7287, 7371, 7527, 8055, 8079, 8259, 8307, 8367, 9279, 9363,
         9651, 9807]
s5868 = [18, 882, 1758, 1842, 2022, 2202, 2874, 3078, 3368, 3632, 3680, 3836, 3932, 4004, 4148, 4796, 5072, 5168, 5612, 6368,
         6440, 6764, 7503, 7743, 7779, 9567, 9603, 9687, 9747, 9807]
s5867 = [1350, 1506, 1590, 3740, 3872, 6272, 6632, 6656, 6848, 6975, 7191, 7707, 7959, 8223, 9759]
s5866 = [1470, 3596, 4004, 4868, 7551, 9855]
s5865 = [1734, 3174, 3728, 3788, 4316, 5768, 6188, 6392, 6716, 9327]
s5864 = [1134, 1530, 3198, 4052, 6284, 6308, 6620, 6668, 7755, 9723]
s5863 = [102, 2046, 2490, 3860, 4280, 4316, 5456, 6896, 7179, 7527]
s5862 = [1050, 3824, 4460, 5180, 6368]
s5858 = [7263]

levels = [5913, 5911, 5910, 5909, 5908, 5907, 5906, 5905, 5904, 5903, 5902, 5901, 5900, 5899, 5898, 5897, 5896, 5895, 5894,
          5893, 5892, 5891, 5890, 5889, 5888, 5887, 5886, 5885, 5884, 5883, 5882, 5881, 5880, 5879, 5878, 5877, 5876, 5875,
          5874, 5873, 5872, 5871, 5870, 5869, 5868, 5867, 5866, 5865, 5864, 5863, 5862, 5858]
columns = [s5913, s5911, s5910, s5909, s5908, s5907, s5906, s5905, s5904, s5903, s5902, s5901, s5900, s5899, s5898, s5897,
           s5896, s5895, s5894, s5893, s5892, s5891, s5890, s5889, s5888, s5887, s5886, s5885, s5884, s5883, s5882, s5881,
           s5880, s5879, s5878, s5877, s5876, s5875, s5874, s5873, s5872, s5871, s5870, s5869, s5868, s5867, s5866, s5865,
           s5864, s5863, s5862, s5858]

X = []
Y = []
for level, col in zip(levels, columns):
    X += col
    Y += [level] * len(col)

plt.figure(figsize=(10, 10))
plt.plot(X, Y, "k.", label="Samples\n$\\mu$ = 5886.8, $\\sigma$ = 7.76")
plt.title("Run 523, channel046, Pedestal")
plt.xlabel("Sample #")
plt.ylabel("ADC Counts")
plt.legend(loc="upper right")
plt.grid()
plt.subplots_adjust(left=0.081, right=0.985, top=0.9645, bottom=0.058)
plt.savefig("out.png", dpi=100)
